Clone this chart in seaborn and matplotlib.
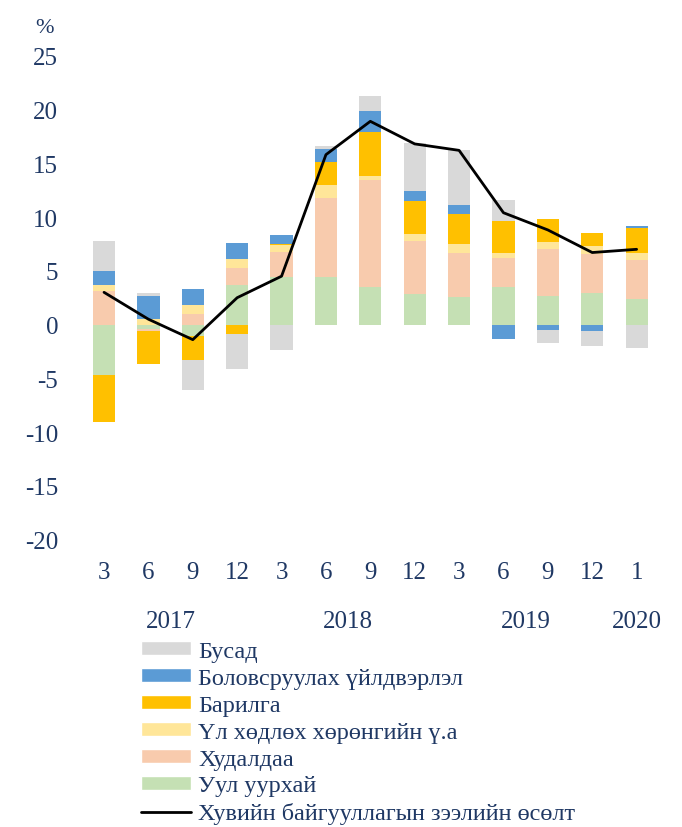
import numpy as np
import pandas as pd
import seaborn as sns
import matplotlib.pyplot as plt
from matplotlib.patches import Patch
from matplotlib.lines import Line2D
from matplotlib.transforms import blended_transform_factory

# data (% contribution)
months = ["3", "6", "9", "12", "3", "6", "9", "12", "3", "6", "9", "12", "1"]
years = ["2017", "2018", "2019", "2020"]
year_pos = [1.5, 5.5, 9.5, 12]

mining = [-4.7, -0.4, -1.05, 3.7, 4.45, 4.45, 3.5, 2.8, 2.55, 3.5, 2.65, 2.95, 2.35]        # Уул уурхай
trade = [3.1, -0.2, 1.0, 1.55, 2.3, 7.3, 9.9, 5.0, 4.1, 2.65, 4.4, 3.65, 3.7]               # Худалдаа
real_estate = [0.55, 0.55, 0.8, 0.85, 0.65, 1.2, 0.45, 0.6, 0.85, 0.55, 0.6, 0.7, 0.65]     # Үл хөдлөх
construction = [-4.35, -3.1, -2.2, -0.9, 0.12, 2.2, 4.1, 3.05, 2.75, 2.9, 2.15, 1.25, 2.25]  # Барилга
manufacturing = [1.3, 2.1, 1.5, 1.5, 0.85, 1.2, 1.9, 0.95, 0.85, -1.3, -0.5, -0.6, 0.22]     # Боловсруулах
other = [2.8, 0.3, -2.85, -3.2, -2.4, 0.3, 1.45, 4.45, 5.1, 1.95, -1.2, -1.4, -2.2]         # Бусад
loan_growth = [3.0, 0.5, -1.4, 2.5, 4.5, 15.8, 18.9, 16.8, 16.2, 10.4, 8.8, 6.7, 7.0]

series = [
    ("Уул уурхай", mining, "#C5E0B4"),
    ("Худалдаа", trade, "#F8CBAD"),
    ("Үл хөдлөх хөрөнгийн ү.а", real_estate, "#FFE699"),
    ("Барилга", construction, "#FFC000"),
    ("Боловсруулах үйлдвэрлэл", manufacturing, "#5B9BD5"),
    ("Бусад", other, "#D9D9D9"),
]

navy = "#1F3864"
sns.set_style("white")
plt.rcParams["font.family"] = ["Liberation Serif", "DejaVu Serif"]
plt.rcParams["axes.unicode_minus"] = False

fig = plt.figure(figsize=(6.82, 8.28), dpi=100)
ax = fig.add_axes([0.120, 0.347, 0.846, 0.5845])

idx = np.arange(len(months))
pos_base = np.zeros(len(months))
neg_base = np.zeros(len(months))
for name, vals, color in series:
    vals = np.array(vals)
    bottom = np.where(vals >= 0, pos_base, neg_base)
    df = pd.DataFrame({"i": idx, "v": vals})
    sns.barplot(data=df, x="i", y="v", bottom=bottom, color=color,
                saturation=1, width=0.5, ax=ax, linewidth=0)
    pos_base = pos_base + np.where(vals >= 0, vals, 0)
    neg_base = neg_base + np.where(vals < 0, vals, 0)

sns.lineplot(x=idx, y=loan_growth, color="black", linewidth=2, ax=ax)

ax.set_xlim(-0.5, 12.5)
ax.set_ylim(-20, 25)
ax.set_yticks(range(-20, 26, 5))
ax.set_xticks(idx)
ax.set_xticklabels(months)
ax.set_xlabel("")
ax.set_ylabel("")
ax.tick_params(axis="both", length=0, labelsize=18, labelcolor=navy)
ax.tick_params(axis="x", pad=15)
ax.tick_params(axis="y", pad=17)
for s in ax.spines.values():
    s.set_visible(False)

trans = blended_transform_factory(ax.transData, ax.transAxes)
for y, p in zip(years, year_pos):
    ax.text(p, -0.168, y, transform=trans, ha="center", va="center",
            fontsize=18, color=navy)

fig.text(0.065, 0.965, "%", ha="center", va="center", fontsize=16, color=navy)

handles = [Patch(facecolor=c, label=n) for n, v, c in series[::-1]]
handles.append(Line2D([0], [0], color="black", linewidth=2,
                      label="Хувийн байгууллагын зээлийн өсөлт"))
fig.legend(handles=handles, loc="upper left", bbox_to_anchor=(0.207, 0.225),
           frameon=False, fontsize=17.5, labelcolor=navy, handlelength=2.05,
           handleheight=0.5, handletextpad=0.3, labelspacing=0.245,
           borderaxespad=0, borderpad=0)

fig.savefig("out.png", dpi=100)
